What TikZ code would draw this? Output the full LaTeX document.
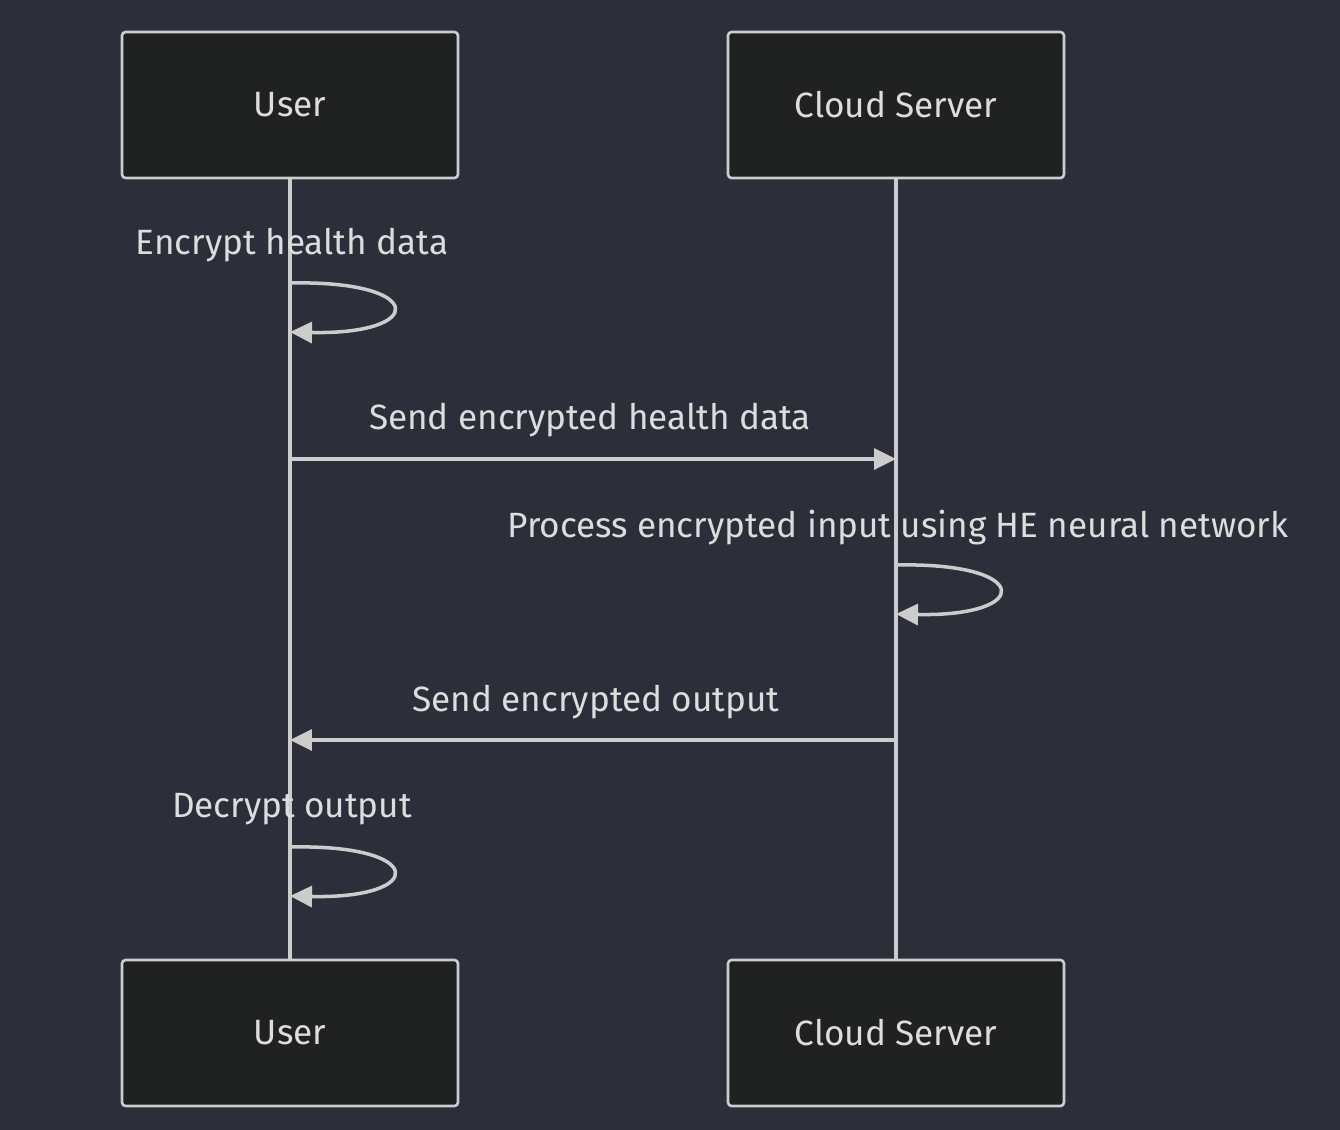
\documentclass[tikz,border=0pt]{standalone}
\usepackage{fontspec}
\setmainfont{Fira Sans}
\usetikzlibrary{arrows.meta, positioning}
\definecolor{canvas}{HTML}{2C2F3A}
\definecolor{actorfill}{HTML}{202121}
\definecolor{linegray}{HTML}{CCCCCC}
\definecolor{textgray}{HTML}{DDDDDD}
\tikzstyle{actor} = [rectangle, rounded corners=2pt, minimum width=6.72cm, minimum height=2.92cm,
                     text centered, draw=linegray, fill=actorfill, line width=1.5pt,
                     text=textgray, font=\fontsize{20}{24}\selectfont]
\tikzstyle{msglabel} = [text=textgray, font=\fontsize{20}{24}\selectfont, inner sep=0pt]
\tikzstyle{lifeline} = [draw=linegray, line width=2.1pt]
\tikzstyle{arrow} = [-{Triangle[length=0.44cm, width=0.42cm]}, draw=linegray, fill=linegray, line width=2pt]

\begin{document}
\begin{tikzpicture}[x=0.02cm, y=-0.02cm]
    \useasboundingbox[fill=canvas] (0,0) rectangle (1340,1130);

    \node[actor] (usertop) at (290,105) {User};
    \node[actor] (cloudtop) at (896,105) {Cloud Server};
    \node[actor] (userbot) at (290,1033) {User};
    \node[actor] (cloudbot) at (896,1033) {Cloud Server};

    \draw[lifeline] (usertop) -- (userbot);
    \draw[lifeline] (cloudtop) -- (cloudbot);

    % self message: encrypt
    \coordinate (enca) at (290,283);
    \coordinate (encb) at (290,332);
    \node[msglabel] (enclbl) at (292,245) {Encrypt health data};
    \draw[arrow, fill=none] (enca) .. controls (427,280) and (427,335) .. (encb);

    % send to server
    \coordinate (senda) at (290,459);
    \coordinate (sendb) at (896,459);
    \node[msglabel] (sendlbl) at (590,420) {Send encrypted health data};
    \draw[arrow] (senda) -- (sendb);

    % self message: process
    \coordinate (proca) at (896,565);
    \coordinate (procb) at (896,614);
    \node[msglabel] (proclbl) at (898,528) {Process encrypted input using HE neural network};
    \draw[arrow, fill=none] (proca) .. controls (1033,562) and (1033,617) .. (procb);

    % send back
    \coordinate (backa) at (896,740);
    \coordinate (backb) at (290,740);
    \node[msglabel] (backlbl) at (596,702) {Send encrypted output};
    \draw[arrow] (backa) -- (backb);

    % self message: decrypt
    \coordinate (deca) at (290,847);
    \coordinate (decb) at (290,896);
    \node[msglabel] (declbl) at (292,809) {Decrypt output};
    \draw[arrow, fill=none] (deca) .. controls (427,844) and (427,899) .. (decb);
\end{tikzpicture}
\end{document}
